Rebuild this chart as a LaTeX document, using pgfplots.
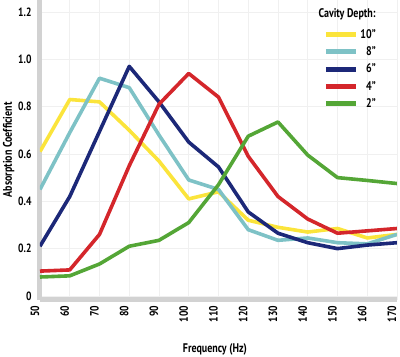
\documentclass[border=0pt]{standalone}
\usepackage{fontspec}
\setmainfont{PT Sans}[FakeStretch=0.8]
\usepackage{pgfplots}
\pgfplotsset{compat=1.18}
\definecolor{cyel}{HTML}{FBE43B}
\definecolor{cteal}{HTML}{7EC2C6}
\definecolor{cnavy}{HTML}{1C2878}
\definecolor{cred}{HTML}{D4262B}
\definecolor{cgreen}{HTML}{54A636}
\begin{document}
\begin{tikzpicture}
\begin{axis}[
  scale only axis, width=357pt, height=299.4pt,
  xmin=50, xmax=170, ymin=-0.015, ymax=1.25,
  xtick={50,60,...,170}, ytick={0,0.2,0.4,0.6,0.8,1.0,1.2},
  yticklabels={0,0.2,0.4,0.6,0.8,1.0,1.2},
  xticklabels={50,60,70,80,90,100,110,120,130,140,150,160,170},
  major tick length=0pt,
  grid=major, grid style={gray!12, line width=0.6pt},
  axis x line*=bottom, axis y line*=left,
  axis line style={line width=5pt, gray!35, -},
  tick label style={font=\fontsize{12}{14}\selectfont\bfseries},
  /pgf/number format/assume math mode=true,
  yticklabel style={xshift=-5pt},
  xticklabel style={rotate=90, anchor=east, xshift=-3pt, yshift=5pt},
  ylabel={Absorption Coefficient},
  ylabel style={at={(axis description cs:-0.088,0.5)}, anchor=center, font=\fontsize{12.5}{14}\selectfont\bfseries},
  xlabel={Frequency (Hz)},
  xlabel style={at={(axis description cs:0.49,-0.167)}, anchor=center, font=\fontsize{12.5}{14}\selectfont\bfseries},
  legend style={at={(0.955,0.917)}, anchor=north east, draw=none, fill=none,
    font=\fontsize{12.5}{14}\selectfont\bfseries, row sep=3pt,
    /tikz/every even column/.append style={column sep=6pt}},
  legend cell align=right,
  legend image code/.code={\draw[#1, line width=5pt] (0pt,0pt) -- (30pt,0pt);},
  every axis plot/.append style={line width=3.6pt, line join=round},
]
\addplot[cyel] coordinates {(50,0.61)(60,0.83)(70,0.82)(80,0.70)(90,0.57)(100,0.41)(110,0.44)(120,0.32)(130,0.29)(140,0.27)(150,0.285)(160,0.245)(170,0.26)};
\addplot[cteal] coordinates {(50,0.45)(60,0.69)(70,0.92)(80,0.88)(90,0.68)(100,0.49)(110,0.45)(120,0.28)(130,0.235)(140,0.245)(150,0.225)(160,0.22)(170,0.26)};
\addplot[cnavy] coordinates {(50,0.21)(60,0.42)(70,0.695)(80,0.97)(90,0.82)(100,0.65)(110,0.545)(120,0.355)(130,0.265)(140,0.225)(150,0.20)(160,0.215)(170,0.225)};
\addplot[cred] coordinates {(50,0.105)(60,0.11)(70,0.26)(80,0.55)(90,0.81)(100,0.94)(110,0.84)(120,0.59)(130,0.42)(140,0.325)(150,0.265)(160,0.275)(170,0.285)};
\addplot[cgreen] coordinates {(50,0.08)(60,0.085)(70,0.135)(80,0.21)(90,0.235)(100,0.31)(110,0.47)(120,0.675)(130,0.735)(140,0.595)(150,0.50)(160,0.488)(170,0.475)};
\legend{10",8",6",4",2"}
\node[anchor=east, font=\fontsize{12.5}{14}\selectfont\bfseries] at (rel axis cs:0.95,0.951) {Cavity Depth:};
\end{axis}
\pgfresetboundingbox
\path (-40pt,-57.5pt) rectangle (360pt,299.5pt);
\end{tikzpicture}
\end{document}
